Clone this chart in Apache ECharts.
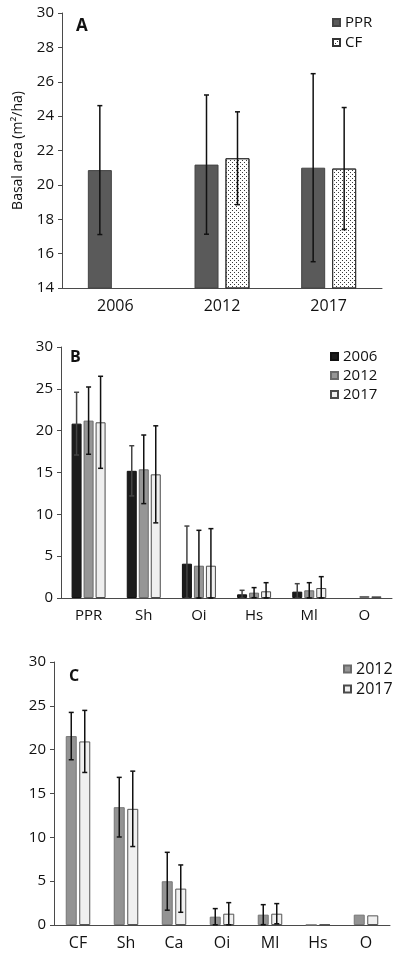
<!DOCTYPE html>
<html>
<head>
<meta charset="utf-8">
<script src="https://cdn.jsdelivr.net/npm/echarts@6/dist/echarts.min.js"></script>
<style>
html,body{margin:0;padding:0;background:#fff;}
#c{width:394px;height:971px;}
</style>
</head>
<body>
<div id="c"></div>
<script>
// ---- Panel A data ----
const catA = ['2006', '2012', '2017'];
const pprA = [20.86, 21.18, 21.0];
const pprSdA = [3.75, 4.05, 5.47];
const cfA = [null, 21.55, 20.95];
const cfSdA = [null, 2.7, 3.55];
const ticksA = [14, 16, 18, 20, 22, 24, 26, 28, 30];

// ---- Panel B data ----
const catB = ['PPR', 'Sh', 'Oi', 'Hs', 'Ml', 'O'];
const b2006 = [20.84, 15.2, 4.1, 0.44, 0.76, null];
const b2006Sd = [3.75, 3.0, 4.5, 0.48, 0.95, null];
const b2012 = [21.2, 15.38, 3.86, 0.64, 0.92, 0.24];
const b2012Sd = [4.02, 4.1, 4.23, 0.6, 0.91, null];
const b2017 = [21.0, 14.78, 3.86, 0.8, 1.19, 0.2];
const b2017Sd = [5.5, 5.8, 4.43, 1.03, 1.36, null];

// ---- Panel C data ----
const catC = ['CF', 'Sh', 'Ca', 'Oi', 'Ml', 'Hs', 'O'];
const c2012 = [21.55, 13.44, 4.99, 0.95, 1.18, 0.02, 1.18];
const c2012Sd = [2.7, 3.4, 3.3, 0.92, 1.14, null, null];
const c2017 = [20.94, 13.25, 4.15, 1.29, 1.29, 0.08, 1.1];
const c2017Sd = [3.54, 4.3, 2.7, 1.26, 1.15, null, null];
const ticksBC = [0, 5, 10, 15, 20, 25, 30];

const FONT = 'Open Sans';
const TXT = '#111';
const AX = '#4a4a4a';

function errData(means, sds, min) {
  const out = [];
  means.forEach((m, i) => {
    if (m == null || sds[i] == null) return;
    out.push([i, Math.max(min, m - sds[i]), m + sds[i]]);
  });
  return out;
}

function errSeries(axisIdx, data, offset, color) {
  return {
    type: 'custom', xAxisIndex: axisIdx, yAxisIndex: axisIdx, z: 10, silent: true,
    data: data,
    renderItem: function (p, api) {
      const top = api.coord([api.value(0), api.value(2)]);
      const bot = api.coord([api.value(0), api.value(1)]);
      const x = top[0] + offset;
      const c = 2.5;
      const st = { stroke: color, lineWidth: 1.5 };
      return {
        type: 'group', children: [
          { type: 'line', shape: { x1: x, y1: top[1], x2: x, y2: bot[1] }, style: st },
          { type: 'line', shape: { x1: x - c, y1: top[1], x2: x + c, y2: top[1] }, style: st },
          { type: 'line', shape: { x1: x - c, y1: bot[1], x2: x + c, y2: bot[1] }, style: st }
        ]
      };
    }
  };
}

function yAxis(idx, min, max, interval, extra) {
  return Object.assign({
    type: 'value', gridIndex: idx, min: min, max: max, interval: interval,
    axisLine: { show: true, lineStyle: { color: AX, width: 1 } },
    axisTick: { show: true, length: 4, lineStyle: { color: AX } },
    splitLine: { show: false },
    axisLabel: { color: TXT, fontFamily: FONT, fontSize: 15, margin: 8 }
  }, extra || {});
}
function xAxis(idx, cats, fs) {
  return {
    type: 'category', gridIndex: idx, data: cats,
    axisLine: { show: true, lineStyle: { color: AX, width: 1 } },
    axisTick: { show: false },
    axisLabel: { color: TXT, fontFamily: FONT, fontSize: fs, margin: 10 }
  };
}

const dots = {
  symbol: 'rect', symbolSize: 1, color: '#3a3a3a',
  dashArrayX: [[1, 3], [0, 2, 1, 1]], dashArrayY: [1, 1], rotation: 0
};

const option = {
  animation: false,
  backgroundColor: '#fff',
  textStyle: { fontFamily: FONT },
  title: [
    { text: 'A', left: 76, top: 18, padding: 0, textStyle: { fontSize: 17, fontWeight: 'bold', color: '#111', fontFamily: FONT } },
    { text: 'B', left: 70, top: 349, padding: 0, textStyle: { fontSize: 16, fontWeight: 'bold', color: '#111', fontFamily: FONT } },
    { text: 'C', left: 69, top: 668, padding: 0, textStyle: { fontSize: 16, fontWeight: 'bold', color: '#111', fontFamily: FONT } }
  ],
  legend: [
    { data: ['PPR', 'CF'], orient: 'vertical', left: 332, top: 15, icon: 'rect', itemWidth: 7, itemHeight: 7, itemGap: 5, padding: 0,
      textStyle: { fontSize: 15, color: TXT, fontFamily: FONT } },
    { data: ['2006', '2012', '2017'], orient: 'vertical', left: 330, top: 349, icon: 'rect', itemWidth: 7, itemHeight: 7, itemGap: 4, padding: 0,
      textStyle: { fontSize: 15, color: TXT, fontFamily: FONT } },
    { data: ['2012', '2017'], orient: 'vertical', left: 343, top: 661, icon: 'rect', itemWidth: 7, itemHeight: 7, itemGap: 4, padding: 0,
      textStyle: { fontSize: 16, color: TXT, fontFamily: FONT } }
  ],
  grid: [
    { left: 62, top: 13, width: 320, height: 275 },
    { left: 61, top: 347, width: 331, height: 251 },
    { left: 54, top: 662, width: 336, height: 263 }
  ],
  xAxis: [xAxis(0, catA, 16), xAxis(1, catB, 15), xAxis(2, catC, 16)],
  yAxis: [
    yAxis(0, ticksA[0], ticksA[ticksA.length - 1], 2, {
      name: 'Basal area (m²/ha)', nameLocation: 'middle', nameGap: 37,
      nameTextStyle: { fontSize: 14, color: TXT, fontFamily: FONT }
    }),
    yAxis(1, ticksBC[0], ticksBC[ticksBC.length - 1], 5),
    yAxis(2, ticksBC[0], ticksBC[ticksBC.length - 1], 5)
  ],
  series: [
    // Panel A
    { name: 'PPR', type: 'bar', xAxisIndex: 0, yAxisIndex: 0, data: pprA, barWidth: 24, barGap: '29%',
      itemStyle: { color: '#5a5a5a', borderColor: '#444', borderWidth: 1 } },
    { name: 'CF', type: 'bar', xAxisIndex: 0, yAxisIndex: 0, data: cfA, barWidth: 24, barGap: '29%',
      itemStyle: { color: '#ffffff', borderColor: '#333', borderWidth: 1, decal: dots } },
    errSeries(0, errData(pprA, pprSdA, 14), -15.5, '#111'),
    errSeries(0, errData(cfA, cfSdA, 14), 15.5, '#111'),
    // Panel B
    { name: '2006', type: 'bar', xAxisIndex: 1, yAxisIndex: 1, data: b2006, barWidth: 10, barGap: '20%',
      itemStyle: { color: '#1c1c1c', borderColor: '#111', borderWidth: 1 } },
    { name: '2012', type: 'bar', xAxisIndex: 1, yAxisIndex: 1, data: b2012, barWidth: 10, barGap: '20%',
      itemStyle: { color: '#969696', borderColor: '#6a6a6a', borderWidth: 1 } },
    { name: '2017', type: 'bar', xAxisIndex: 1, yAxisIndex: 1, data: b2017, barWidth: 10, barGap: '20%',
      itemStyle: { color: '#efefef', borderColor: '#4a4a4a', borderWidth: 1 } },
    errSeries(1, errData(b2006, b2006Sd, 0), -12, '#444'),
    errSeries(1, errData(b2012, b2012Sd, 0), 0, '#111'),
    errSeries(1, errData(b2017, b2017Sd, 0), 12, '#111'),
    // Panel C
    { name: '2012', type: 'bar', xAxisIndex: 2, yAxisIndex: 2, data: c2012, barWidth: 11, barGap: '23%',
      itemStyle: { color: '#939393', borderColor: '#777', borderWidth: 1 } },
    { name: '2017', type: 'bar', xAxisIndex: 2, yAxisIndex: 2, data: c2017, barWidth: 11, barGap: '23%',
      itemStyle: { color: '#f0f0f0', borderColor: '#555', borderWidth: 1 } },
    errSeries(2, errData(c2012, c2012Sd, 0), -6.75, '#111'),
    errSeries(2, errData(c2017, c2017Sd, 0), 6.75, '#111')
  ]
};

const chart = echarts.init(document.getElementById('c'), null, { renderer: 'canvas' });
chart.setOption(option);
</script>
</body>
</html>
